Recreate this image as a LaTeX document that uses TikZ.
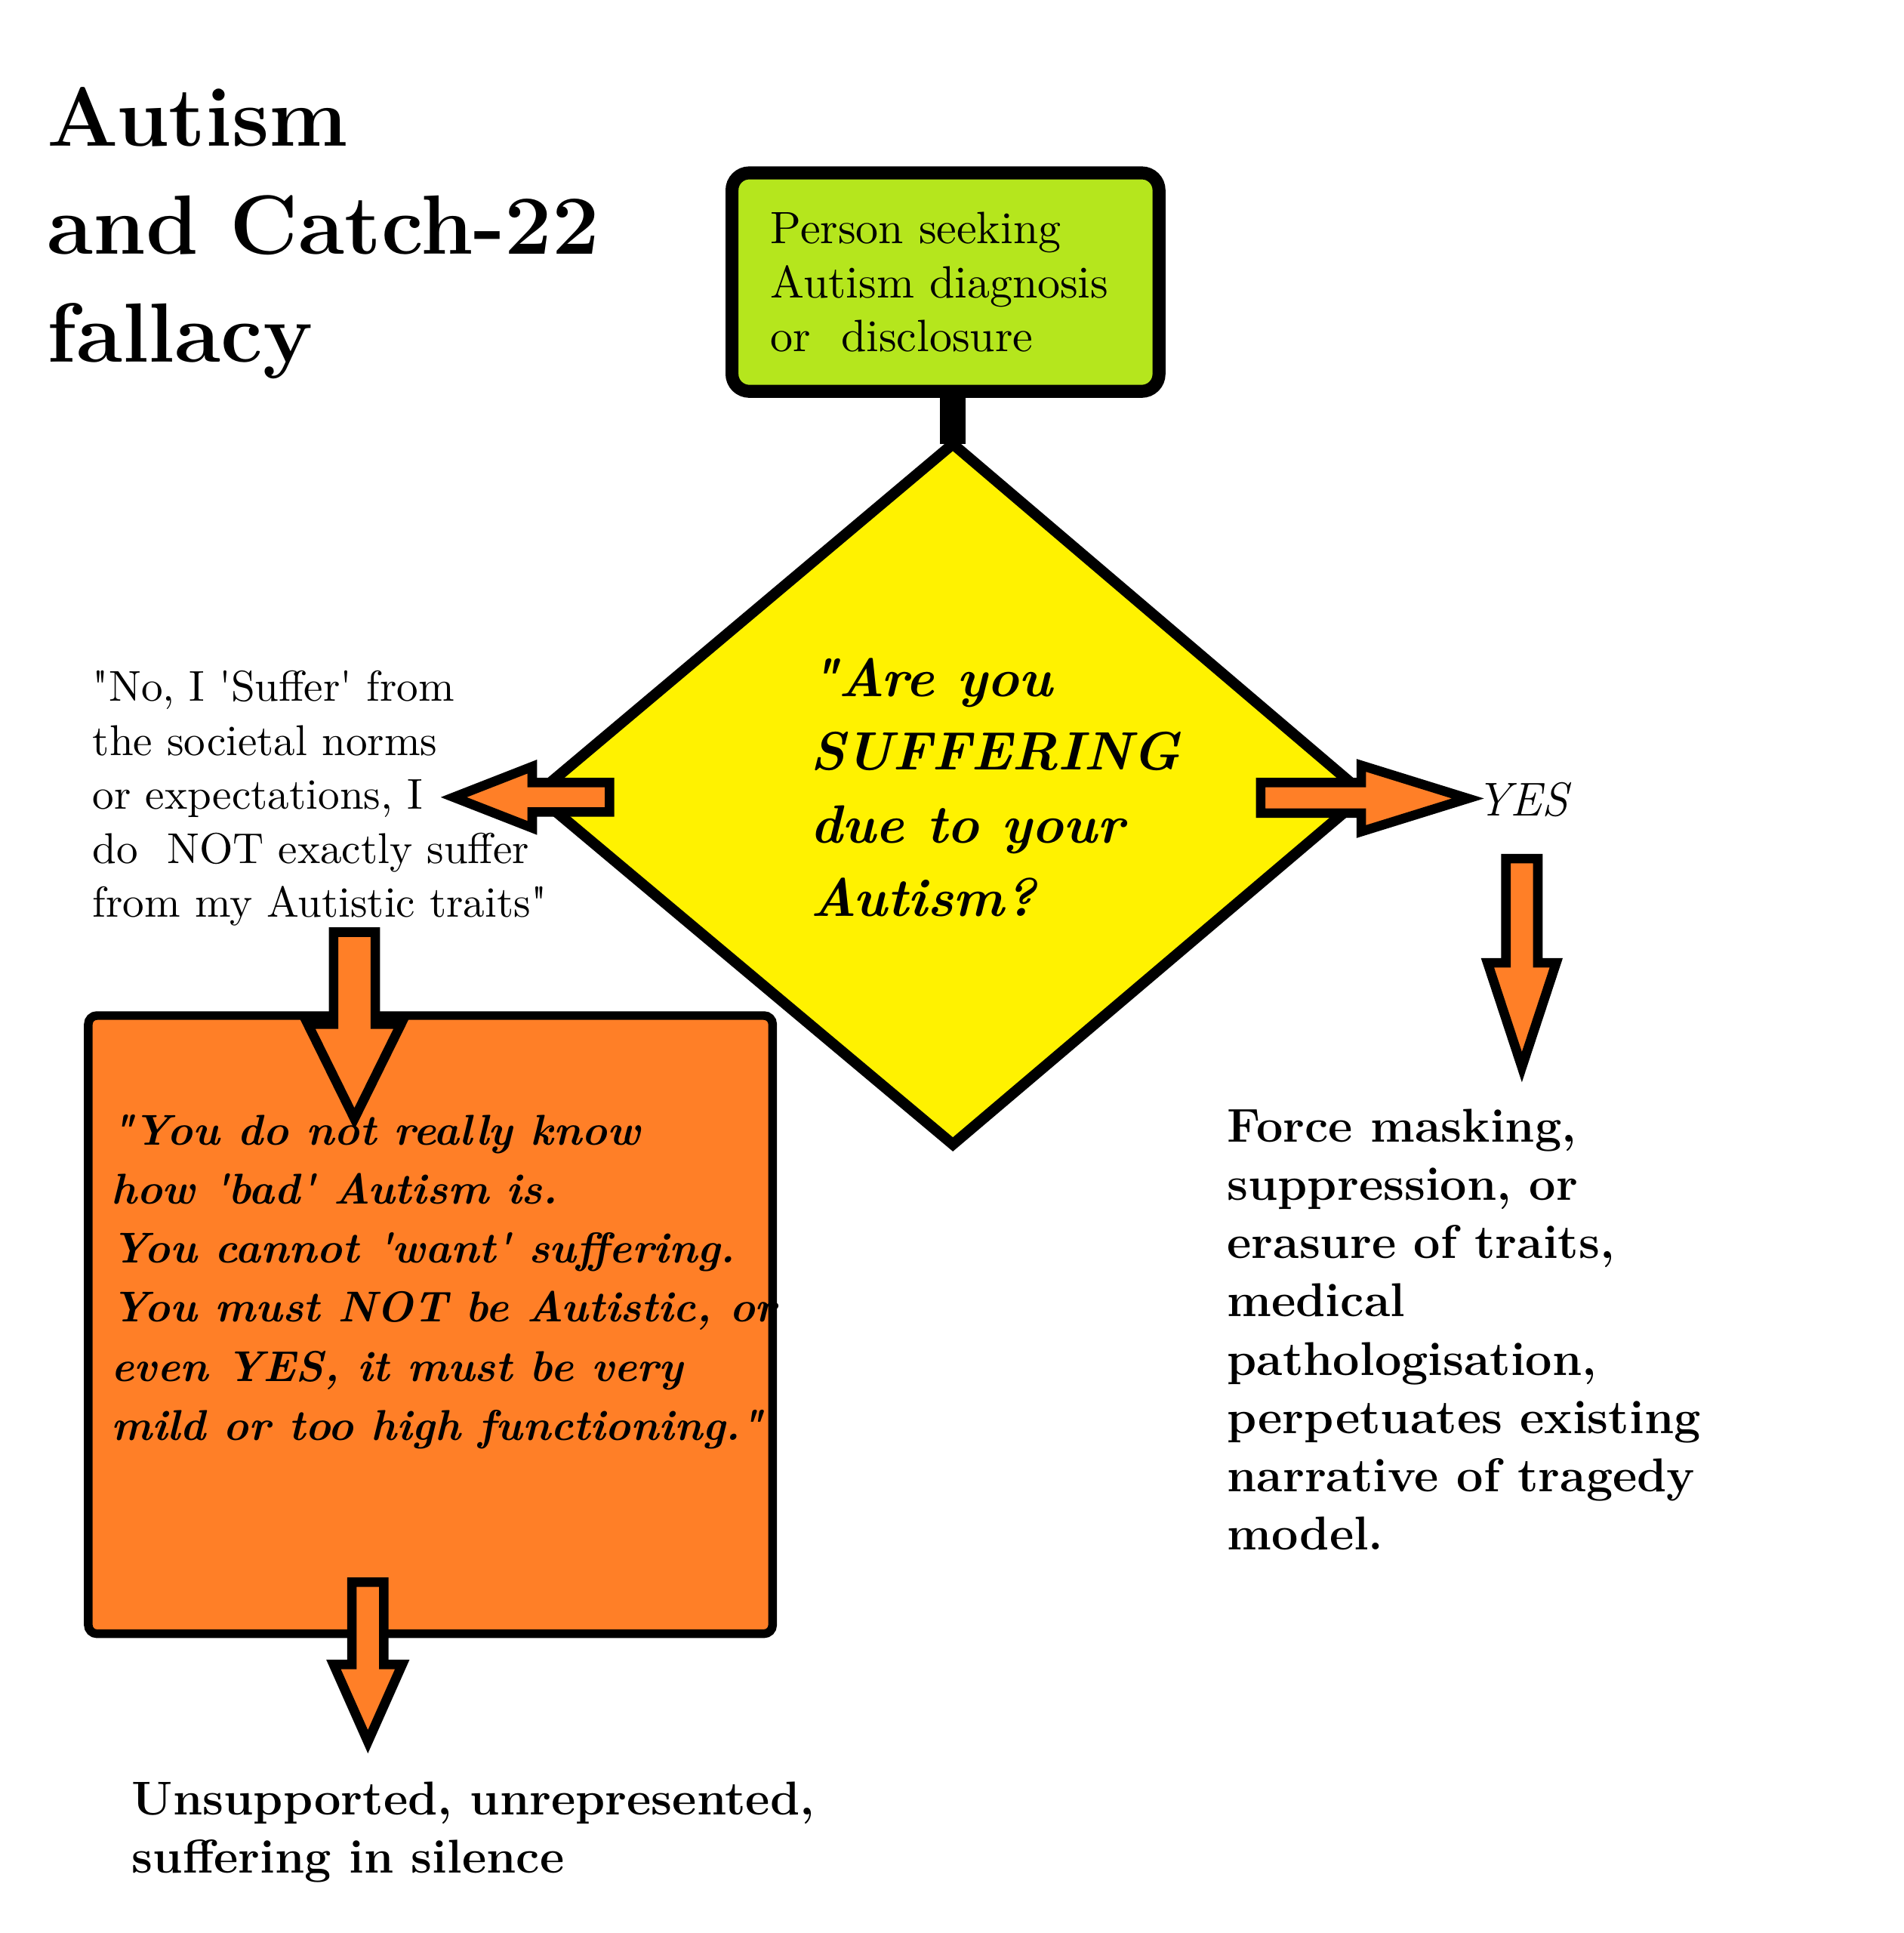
\documentclass[tikz,border=0pt]{standalone}
\usepackage{fontspec}
\usepackage{xcolor}
\usetikzlibrary{positioning}
\definecolor{boxgreen}{HTML}{B5E61D}
\definecolor{diayellow}{HTML}{FFF200}
\definecolor{arrorange}{HTML}{FF7F27}
\tikzset{
  txt/.style={anchor=west, align=left, inner sep=0pt},
  blk/.style={fill=arrorange, draw=black, line width=2.2pt, line join=miter},
}
\newcommand{\qd}{\textquotedbl}
\newcommand{\qs}{\textquotesingle}
% block arrow: x, y of tail, head start, half shaft, half head, tip (units: 0.01cm)
\newcommand{\downarr}[6]{%
  \filldraw[blk] (#1-#4,-#2) -- (#1+#4,-#2) -- (#1+#4,-#3) -- (#1+#5,-#3)
    -- (#1,-#6) -- (#1-#5,-#3) -- (#1-#4,-#3) -- cycle;}
\begin{document}
\begin{tikzpicture}[x=0.01cm, y=0.01cm]
  \useasboundingbox (0,0) rectangle (1552,-1576);

  % title
  \node[txt, font=\fontsize{19.5}{25}\selectfont\bfseries] (title) at (38,-190)
    {Autism\\and Catch-22\\fallacy};

  % start box
  \node[draw=black, line width=3pt, fill=boxgreen, rounded corners=4pt,
        minimum width=3.48cm, minimum height=1.78cm,
        text width=2.85cm, align=left,
        font=\fontsize{10.5}{12.5}\selectfont] (person) at (771,-230)
    {Person seeking\\Autism diagnosis\\or~ disclosure};

  % question
  \filldraw[fill=diayellow, draw=black, line width=2.5pt, line join=miter]
    (777,-362) coordinate (top) -- (1113,-648) -- (777,-933) -- (437,-648) -- cycle;
  \draw[line width=6pt] (top |- person.south) -- (top);
  \node[txt, font=\fontsize{12.5}{17}\selectfont\bfseries\itshape] (quest) at (660,-642)
    {\qd Are you\\SUFFERING\\due to your\\Autism?};

  % side arrows
  \filldraw[blk] (497,-638) -- (497,-662) -- (434,-662) -- (434,-675) -- (370,-650)
    -- (434,-625) -- (434,-638) -- cycle;
  \filldraw[blk] (1028,-638) -- (1028,-663) -- (1110,-663) -- (1110,-678) -- (1197,-651)
    -- (1110,-624) -- (1110,-638) -- cycle;
  \node[txt, font=\fontsize{11}{13}\selectfont\itshape] (yes) at (1203,-652) {YES};

  \node[txt, font=\fontsize{10}{12.5}\selectfont] (no) at (75,-651)
    {\qd No, I \qs Suffer\qs{} from\\the societal norms\\or expectations, I\\do~ NOT exactly suffer\\from my Autistic traits\qd};

  % reply box
  \filldraw[fill=arrorange, draw=black, line width=2pt, rounded corners=2pt]
    (72,-828) rectangle (630,-1332);
  \downarr{289}{760}{835}{17}{38}{912}
  \node[txt, font=\fontsize{10}{13.7}\selectfont\bfseries\itshape] (reply) at (90,-1045)
    {\qd You do not really know\\how \qs bad\qs{} Autism is.\\You cannot \qs want\qs{} suffering.\\You must NOT be Autistic, or\\even YES, it must be very\\mild or too high functioning.\qd};
  \downarr{300}{1290}{1357}{13}{28}{1420}
  \downarr{1241}{700}{785}{13}{28}{870}

  % outcomes
  \node[txt, font=\fontsize{11}{13.5}\selectfont\bfseries] (silent) at (107,-1494)
    {Unsupported, unrepresented,\\suffering in silence};
  \node[txt, font=\fontsize{11}{13.5}\selectfont\bfseries] (force) at (1000,-1084)
    {Force masking,\\suppression, or\\erasure of traits,\\medical\\pathologisation,\\perpetuates existing\\narrative of tragedy\\model.};
\end{tikzpicture}
\end{document}
